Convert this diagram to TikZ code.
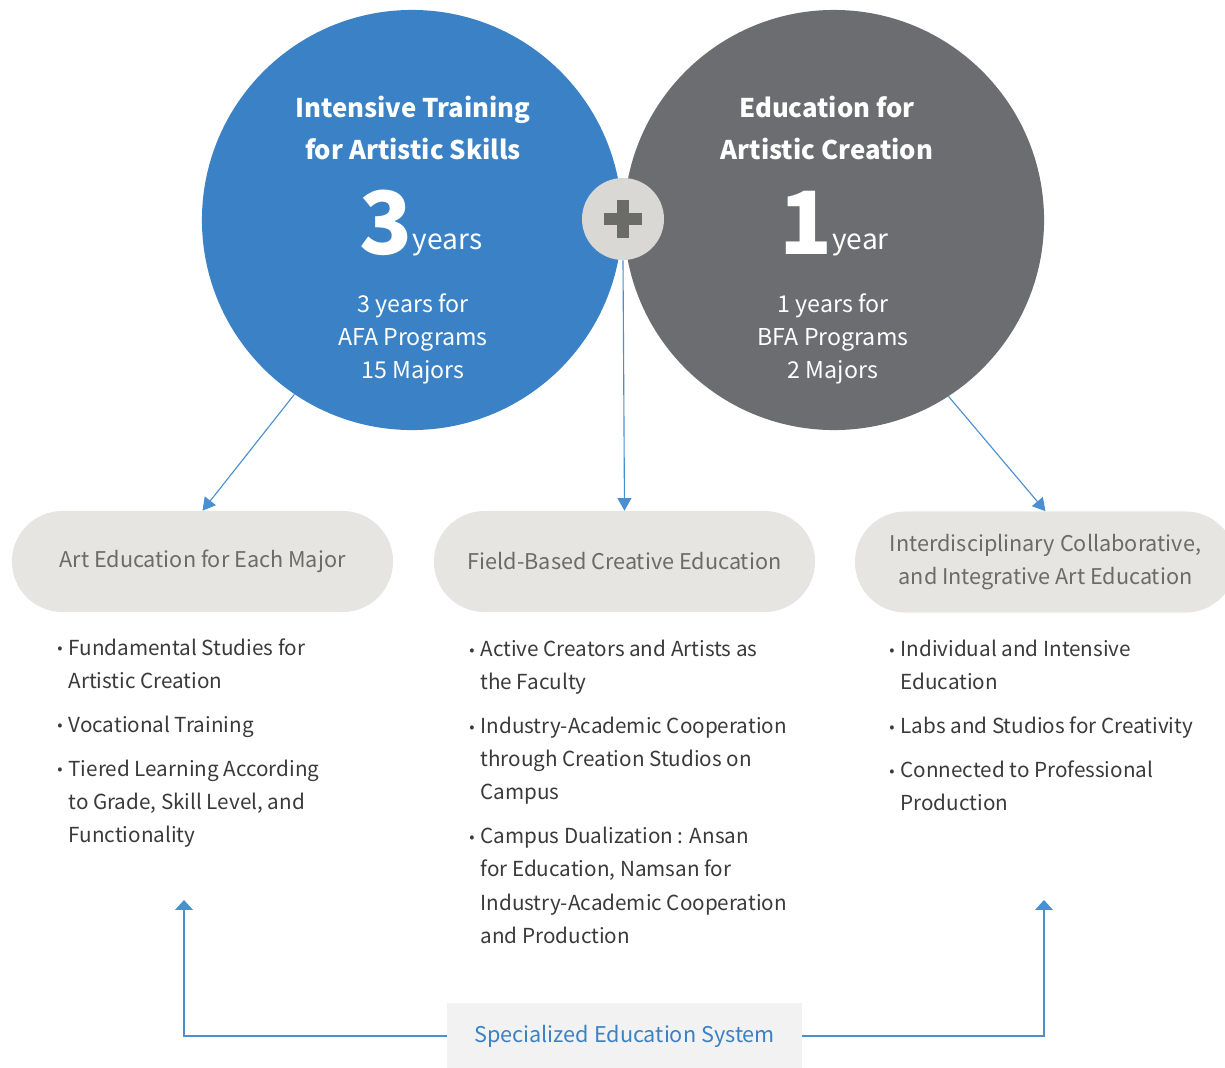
\documentclass[tikz,border=0pt]{standalone}
\usepackage{fontspec}
\setmainfont{Noto Sans CJK KR}
\usetikzlibrary{arrows.meta,positioning}

\definecolor{artblue}{HTML}{3A82C5}
\definecolor{artgray}{HTML}{6C6D71}
\definecolor{plusbg}{HTML}{DAD8D5}
\definecolor{plusmark}{HTML}{6B6C67}
\definecolor{pillgray}{HTML}{E6E5E2}
\definecolor{pilltext}{HTML}{6B6B67}
\definecolor{bodytext}{HTML}{3A3A3A}
\definecolor{linkblue}{HTML}{4A8FD0}
\definecolor{sysgray}{HTML}{F2F2F2}

\newcommand{\bul}{\makebox[8pt][l]{\fontsize{11}{11}\selectfont\raisebox{1.2pt}{•}}}
\newcommand{\ind}{\hspace*{8pt}}

\tikzset{
  bigcircle/.style={circle, minimum size=10.5cm, inner sep=0pt},
  circtitle/.style={text=white, align=center, inner sep=0pt, font=\fontsize{18.3}{29.2}\selectfont\bfseries},
  circsub/.style={text=white, align=center, inner sep=0pt, font=\fontsize{16.5}{23.5}\selectfont},
  pill/.style={fill=pillgray, text=pilltext, minimum width=9.525cm, minimum height=2.525cm,
    rounded corners=1.26cm, align=center, inner sep=0pt, font=\fontsize{15.4}{24}\selectfont},
  bullets/.style={anchor=north west, inner sep=0pt, align=left, text=bodytext,
    font=\fontsize{14.7}{23.5}\selectfont},
  link/.style={draw=linkblue, line width=0.8pt, -{Triangle[length=9pt,width=10pt]}},
  uplink/.style={draw=linkblue, line width=0.8pt, -{Triangle[length=7pt,width=12.5pt]}},
}

\begin{document}
\begin{tikzpicture}[x=0.025cm, y=-0.025cm]
  \useasboundingbox (0,0) rectangle (1225,1067);
  \clip (0,0) rectangle (1225,1067);

  % the two circles
  \node[bigcircle, fill=artblue] (afa) at (412,220) {};
  \node[bigcircle, fill=artgray] (bfa) at (834,220) {};

  % plus between them
  \node[circle, fill=plusbg, minimum size=2.05cm, inner sep=0pt] (plus) at (623,219) {};
  \fill[plusmark] (plus.center) ++(-19,-6) rectangle ++(38,12);
  \fill[plusmark] (plus.center) ++(-6,-19) rectangle ++(12,38);

  % texts in the circles
  \node[circtitle] (afatitle) at (413,128) {Intensive Training\\for Artistic Skills};
  \node[anchor=base, text=white, inner sep=0pt] (afayears) at (421,254)
    {{\fontsize{62}{62}\selectfont\bfseries 3}\raisebox{3.5pt}{\fontsize{20}{20}\selectfont years}};
  \node[circsub] (afainfo) at (413,339) {3 years for\\AFA Programs\\15 Majors};

  \node[circtitle] (bfatitle) at (827,128) {Education for\\Artistic Creation};
  \node[anchor=base, text=white, inner sep=0pt] (bfayears) at (834,254)
    {{\fontsize{62}{62}\selectfont\bfseries 1}\raisebox{3.5pt}{\fontsize{20}{20}\selectfont year}};
  \node[circsub] (bfainfo) at (833,339) {1 years for\\BFA Programs\\2 Majors};

  % the three pills
  \node[pill] (major) at (202.5,561.5) {Art Education for Each Major};
  \node[pill] (field) at (624.5,561.5) {Field-Based Creative Education};
  \node[pill] (inter) at (1045.5,562) {Interdisciplinary Collaborative,\\and Integrative Art Education};

  % arrows down to the pills
  \draw[link] (afa.236.9) -- (major.north);
  \draw[link] (plus.south) -- (field.north);
  \draw[link] (bfa.303.1) -- (inter.north);

  % bullet lists
  \node[bullets] (majorlist) at (57,638)
    {\bul Fundamental Studies for\\ \ind Artistic Creation\\[7.8pt]
     \bul Vocational Training\\[7.8pt]
     \bul Tiered Learning According\\ \ind to Grade, Skill Level, and\\ \ind Functionality};
  \node[bullets] (fieldlist) at (469,640)
    {\bul Active Creators and Artists as\\ \ind the Faculty\\[7.8pt]
     \bul Industry-Academic Cooperation\\ \ind through Creation Studios on\\ \ind Campus\\[7.8pt]
     \bul Campus Dualization : Ansan\\ \ind for Education, Namsan for\\ \ind Industry-Academic Cooperation\\ \ind and Production};
  \node[bullets] (interlist) at (889,640)
    {\bul Individual and Intensive\\ \ind Education\\[7.8pt]
     \bul Labs and Studios for Creativity\\[7.8pt]
     \bul Connected to Professional\\ \ind Production};

  % specialized education system
  \node[fill=sysgray, text=artblue, minimum width=8.875cm, minimum height=1.65cm, inner sep=0pt,
    font=\fontsize{15.4}{24}\selectfont] (system) at (624.5,1036) {\raisebox{-2.8pt}{Specialized Education System}};
  \coordinate (majorup) at (184,900);
  \coordinate (interup) at (1044,900);
  \draw[uplink] (system.west) -| (majorup);
  \draw[uplink] (system.east) -| (interup);
\end{tikzpicture}
\end{document}
